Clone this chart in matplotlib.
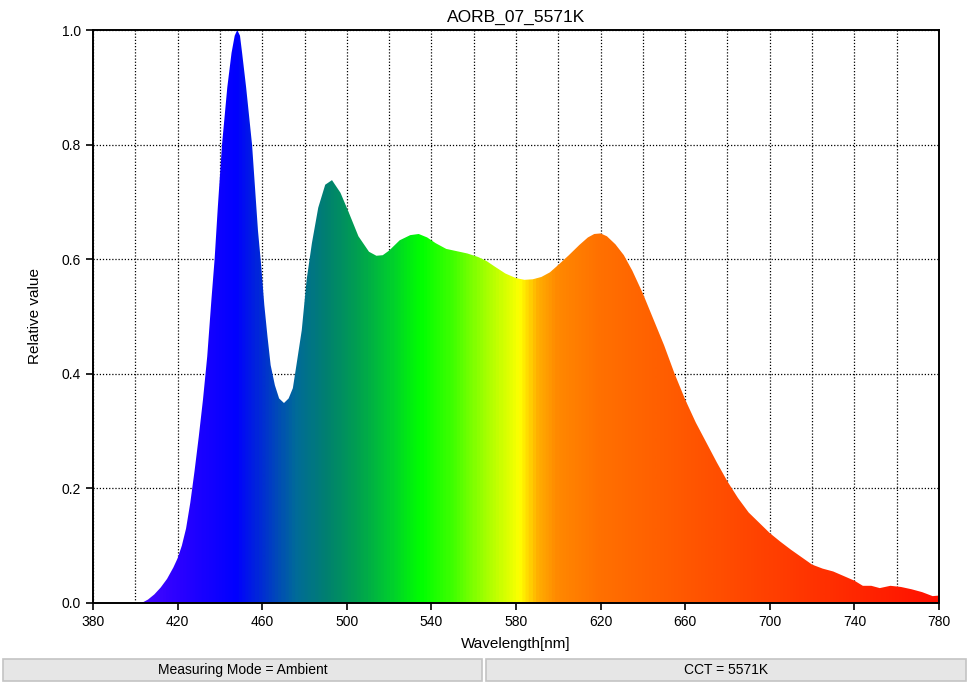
import numpy as np
import matplotlib
matplotlib.use("Agg")
import matplotlib.pyplot as plt
from matplotlib.colors import LinearSegmentedColormap
from matplotlib.patches import Rectangle

plt.rcParams['font.family'] = ['Liberation Sans', 'DejaVu Sans']

title = "AORB_07_5571K"
wavelength = [403, 406, 409, 412, 415, 418, 420, 422, 424, 426, 428, 430, 432, 434,
              436, 437.5, 439, 441, 443.5, 445.5, 447, 448.2, 449.5, 450.5, 452.4,
              455.2, 458, 459.5, 461, 462.5, 464, 466, 468, 470.3, 472.5, 474.5,
              476.3, 478.7, 481, 483.5, 486.5, 489.8, 493, 497, 501, 505.5, 510.5,
              514, 517, 520, 525, 530, 534, 538, 542, 547, 552, 557, 562, 566, 570,
              575, 580, 584, 588, 592, 596, 600, 605, 610, 614, 617, 620, 623, 627,
              631, 635, 640, 645, 650, 655, 660, 665, 670, 675, 680, 685, 690, 695,
              700, 705, 710, 715, 720, 725, 730, 735, 740, 744, 748, 752, 757, 762,
              767, 772, 777, 780]
relative = [0.0, 0.006, 0.015, 0.027, 0.042, 0.062, 0.078, 0.10, 0.13, 0.175, 0.23,
            0.29, 0.355, 0.43, 0.53, 0.60, 0.69, 0.80, 0.90, 0.96, 0.99, 1.0, 0.99,
            0.96, 0.90, 0.80, 0.65, 0.59, 0.52, 0.465, 0.415, 0.38, 0.357, 0.349,
            0.357, 0.375, 0.418, 0.476, 0.564, 0.628, 0.69, 0.73, 0.738, 0.716,
            0.681, 0.64, 0.613, 0.606, 0.607, 0.615, 0.633, 0.642, 0.644, 0.638,
            0.628, 0.618, 0.614, 0.610, 0.604, 0.597, 0.587, 0.575, 0.567, 0.564,
            0.565, 0.569, 0.577, 0.59, 0.607, 0.625, 0.638, 0.644, 0.645, 0.640,
            0.626, 0.607, 0.58, 0.54, 0.495, 0.45, 0.40, 0.355, 0.315, 0.28, 0.245,
            0.212, 0.183, 0.158, 0.14, 0.122, 0.107, 0.093, 0.08, 0.067, 0.06, 0.055,
            0.047, 0.039, 0.030, 0.030, 0.026, 0.030, 0.028, 0.024, 0.019, 0.012,
            0.013]

color_wl = [380, 400, 420, 447, 460, 475, 490, 505, 520, 535, 550, 565, 582, 590,
            600, 620, 660, 700, 740, 780]
color_hex = ['#5a00ff', '#4a0aff', '#2a00ff', '#0000ff', '#0030d0', '#006a9a',
             '#008070', '#00a050', '#00cc30', '#00ff00', '#40ff00', '#a0ff00',
             '#ffff00', '#ffb000', '#ff8800', '#ff7000', '#ff5800', '#ff4000',
             '#ff2800', '#ff1000']

x_ticks = list(range(380, 781, 40))
y_ticks = [0.0, 0.2, 0.4, 0.6, 0.8, 1.0]
footer = ["Measuring Mode = Ambient", "CCT = 5571K"]

fig = plt.figure(figsize=(9.7, 6.83), dpi=100)
ax = fig.add_axes([93/970, 80/683, 846/970, 573/683])

wmin, wmax = 380, 780
stops = [((w - wmin) / (wmax - wmin), c) for w, c in zip(color_wl, color_hex)]
cmap = LinearSegmentedColormap.from_list("spec", stops)

poly = ax.fill_between(wavelength, 0, relative, color='none', lw=0)
grad = np.linspace(0, 1, 800).reshape(1, -1)
im = ax.imshow(grad, cmap=cmap, aspect='auto', extent=[wmin, wmax, 0, 1],
               origin='lower', interpolation='bilinear', zorder=2)
path = poly.get_paths()[0]
im.set_clip_path(path, transform=ax.transData)

ax.set_xlim(wmin, wmax)
ax.set_ylim(0, 1)
ax.set_xticks(x_ticks)
ax.set_xticks(list(range(400, 780, 20)), minor=True)
ax.set_yticks(y_ticks)
ax.set_yticklabels([f"{v:.1f}" for v in y_ticks])
ax.tick_params(axis='both', which='major', direction='out', length=5, width=1.2,
               labelsize=10, colors='black')
ax.tick_params(axis='x', which='minor', length=0)
ax.grid(True, which='both', axis='x', color='black', linestyle=(0, (1, 1.5)), lw=0.9, zorder=1)
ax.grid(True, which='major', axis='y', color='black', linestyle=(0, (1, 1.5)), lw=0.9, zorder=1)
ax.set_axisbelow(True)
for s in ax.spines.values():
    s.set_linewidth(1.4)
    s.set_color('black')
    s.set_zorder(5)

ax.set_title(title, fontsize=12.5, pad=6)
ax.set_xlabel("Wavelength[nm]", fontsize=11, labelpad=6)
ax.set_ylabel("Relative value", fontsize=11, labelpad=14)

# footer boxes
for i, txt in enumerate(footer):
    x0 = 3 / 970 if i == 0 else 486 / 970
    w = 479 / 970 if i == 0 else 480 / 970
    rect = Rectangle((x0, 2 / 683), w, 22 / 683, transform=fig.transFigure,
                     facecolor='#e6e6e6', edgecolor='#c4c4c4', lw=1.2)
    fig.patches.append(rect)
    fig.text(x0 + w / 2, 13 / 683, txt, ha='center', va='center', fontsize=10)

fig.savefig("out.png", dpi=100)
